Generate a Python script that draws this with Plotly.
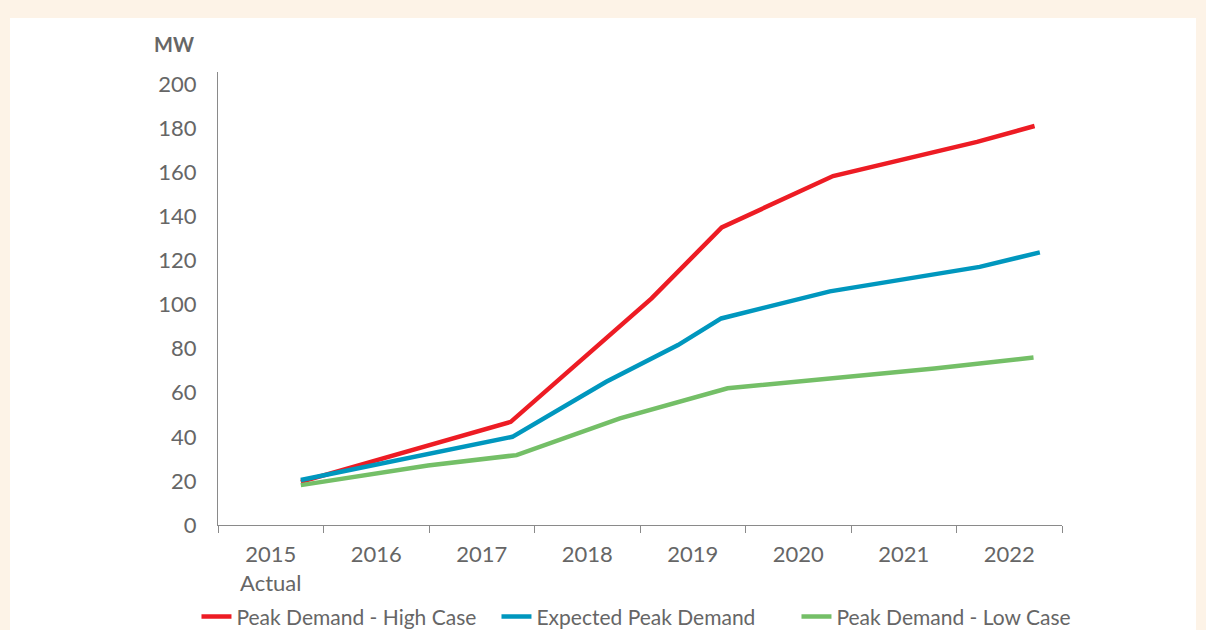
import plotly.graph_objects as go

categories = ["2015<br>Actual", "2016", "2017", "2018", "2019", "2020", "2021", "2022"]
y_ticks = [0, 20, 40, 60, 80, 100, 120, 140, 160, 180, 200]

# x positions in category-index units (category centres at 0..7)
high_x = [0.285, 2.275, 3.61, 4.275, 5.33, 6.695, 7.24]
high_y = [19.6, 46.8, 102.8, 135.0, 158.3, 173.8, 181.0]

exp_x = [0.285, 2.29, 3.18, 3.86, 4.27, 5.30, 6.72, 7.29]
exp_y = [20.4, 40.0, 65.0, 81.6, 93.7, 106.0, 117.1, 123.7]

low_x = [0.285, 1.49, 2.33, 3.31, 4.33, 5.33, 6.29, 7.23]
low_y = [18.1, 27.0, 31.7, 48.4, 62.0, 66.5, 71.0, 76.0]

names = ["Peak Demand - High Case", "Expected Peak Demand", "Peak Demand - Low Case"]
colors = ["#ED1C24", "#0097BE", "#74BF67"]

FONT = "Lato, 'Open Sans', sans-serif"
GREY = "#666666"
AXIS = "#8a8a8a"

fig = go.Figure()
for xs, ys, nm, c in zip([high_x, exp_x, low_x], [high_y, exp_y, low_y], names, colors):
    fig.add_trace(go.Scatter(x=xs, y=ys, mode="lines", name=nm,
                             line=dict(color=c, width=4.5)))

# invisible trace to carry the category axis
fig.add_trace(go.Scatter(x=categories, y=[None] * len(categories), xaxis="x2",
                         showlegend=False, hoverinfo="skip", mode="lines"))

fig.update_layout(
    width=1206, height=630,
    margin=dict(l=218, r=144, t=72, b=105, autoexpand=False),
    paper_bgcolor="#FDF3E7",
    plot_bgcolor="white",
    font=dict(family=FONT, color=GREY, size=22),
    xaxis=dict(range=[-0.5, 7.5], visible=False, fixedrange=True),
    xaxis2=dict(type="category", overlaying="x", anchor="y", side="bottom",
                range=[-0.5, 7.5], tickson="boundaries", ticks="outside",
                ticklen=7, tickcolor=AXIS, showline=True, linecolor=AXIS,
                linewidth=1, showgrid=False, zeroline=False,
                ticklabelstandoff=10,
                tickfont=dict(size=22, color=GREY)),
    yaxis=dict(range=[0, 205.5], tickvals=y_ticks, showline=True, linecolor=AXIS,
               linewidth=1, showgrid=False, zeroline=False, ticks="",
               ticklabelstandoff=16, tickfont=dict(size=22, color=GREY)),
    legend=dict(orientation="h", x=-0.0255, xanchor="left", y=-0.203, yanchor="middle",
                font=dict(size=21, color=GREY), entrywidth=255,
                bgcolor="rgba(0,0,0,0)"),
    shapes=[dict(type="rect", xref="paper", yref="paper", x0=-0.2464, x1=1.1588,
                 y0=-0.2318, y1=1.1192, fillcolor="white", line=dict(width=0),
                 layer="below")],
    annotations=[dict(text="<b>MW</b>", xref="paper", yref="paper", x=-0.0255,
                      y=1.062, xanchor="right", yanchor="middle", showarrow=False,
                      font=dict(size=20, color=GREY, family=FONT))],
)

fig.write_html("out.html", config={"displayModeBar": False},
               post_script="document.body.style.margin='0';")
